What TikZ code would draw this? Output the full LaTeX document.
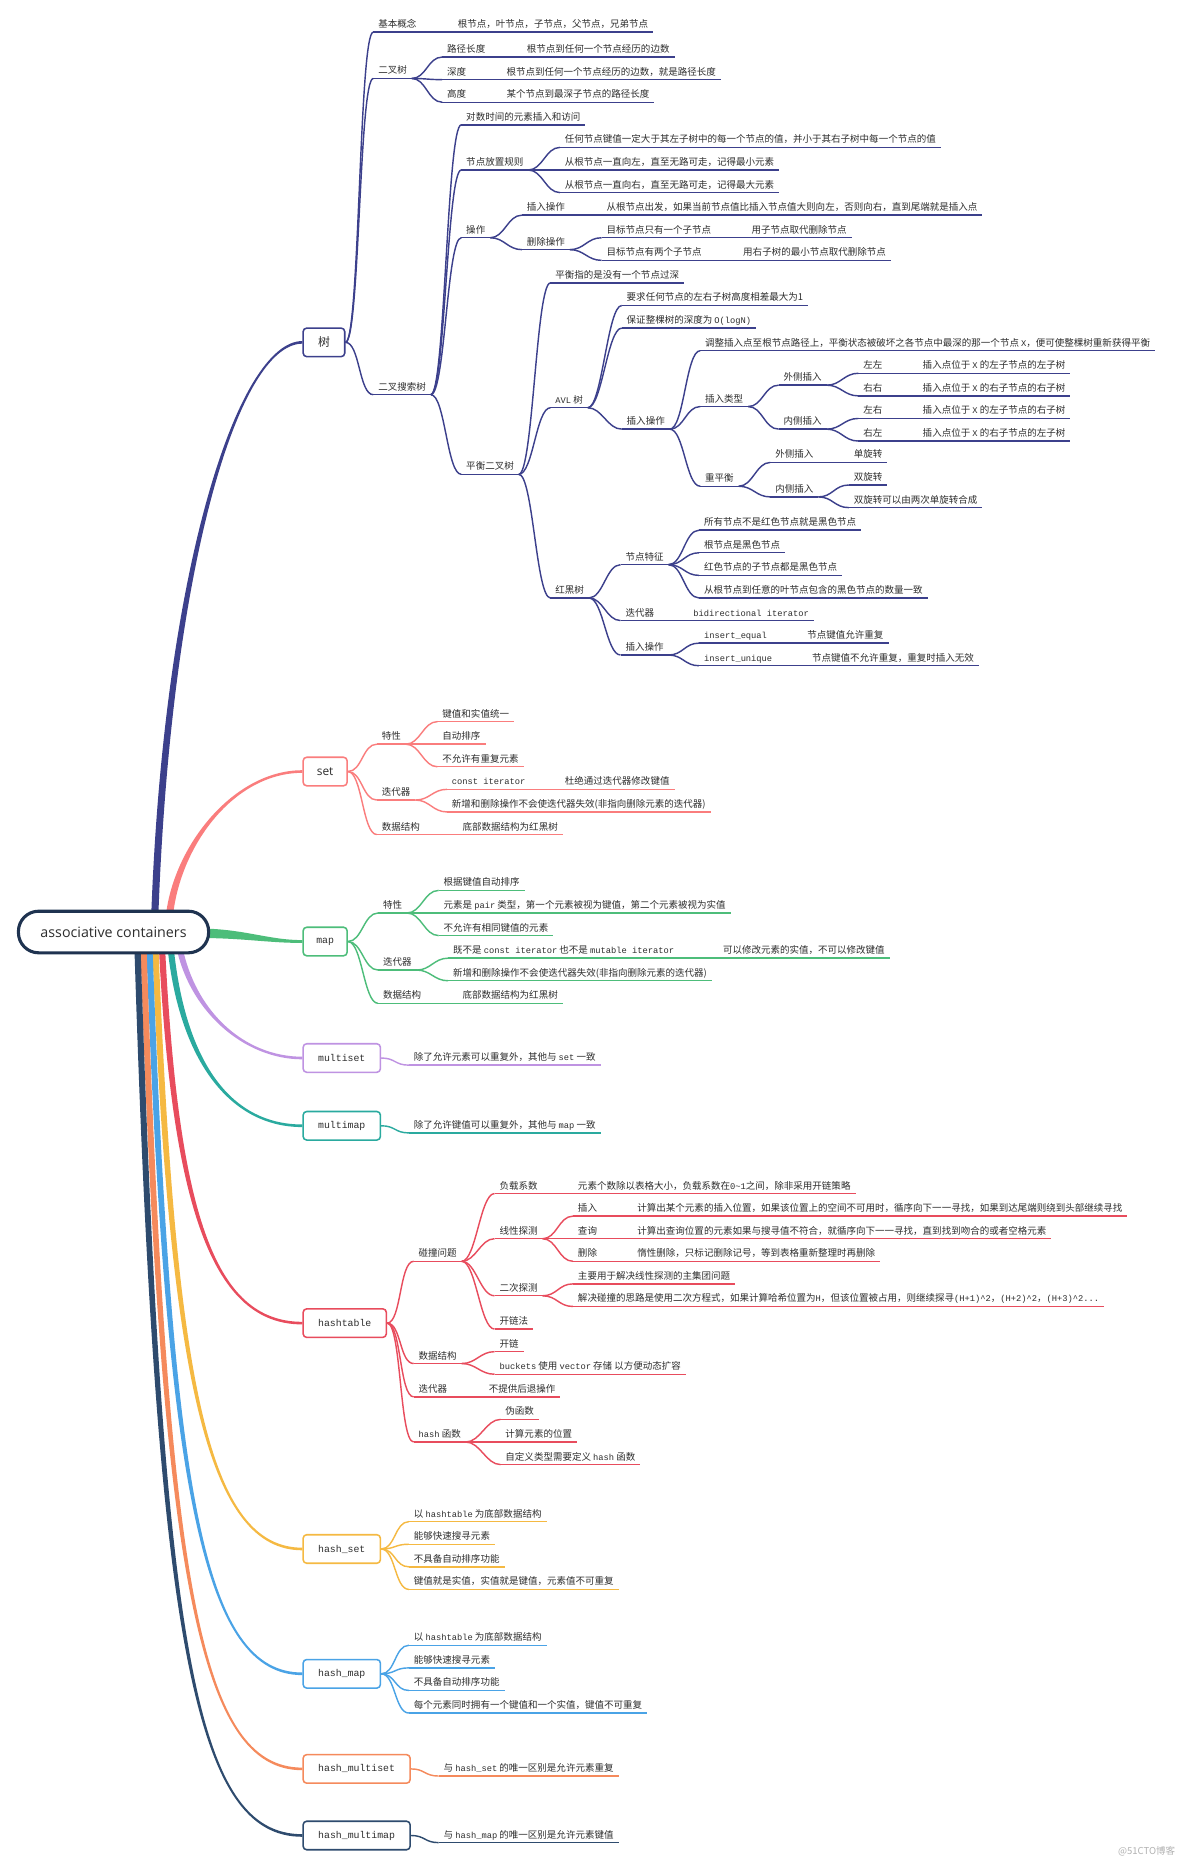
\documentclass[tikz,border=0pt]{standalone}
\usepackage{fontspec}
\setmainfont{Noto Sans CJK SC}
\setmonofont{Liberation Mono}[Scale=0.92]
\newfontfamily\rootfont{Open Sans}
\usetikzlibrary{calc}
\pgfdeclarelayer{bg}
\pgfsetlayers{bg,main}
\definecolor{txt}{HTML}{2E2E2E}
\definecolor{treeC}{HTML}{3C408C}
\definecolor{setC}{HTML}{FA7D7D}
\definecolor{mapC}{HTML}{4DBD7A}
\definecolor{msC}{HTML}{BF93E2}
\definecolor{mmC}{HTML}{2AAA9F}
\definecolor{htC}{HTML}{E84C5D}
\definecolor{hsC}{HTML}{F5B942}
\definecolor{hmC}{HTML}{4AA3E6}
\definecolor{hmsC}{HTML}{F58A5C}
\definecolor{hmmC}{HTML}{2E4B6E}
\definecolor{rootC}{HTML}{1F3350}
\colorlet{bc}{treeC}
\tikzset{
 lb/.style={anchor=south west, inner xsep=4pt, inner ysep=2.6pt, text height=6.3pt, text depth=1pt, font=\fontsize{8}{9}\selectfont, text=txt},
 ul/.style={draw=bc, line width=1.2pt},
 cnx/.style={draw=bc, line width=1.2pt},
 bx/.style={draw=bc, line width=1.3pt, fill=white, rounded corners=3pt, minimum height=24pt, inner sep=0pt, text=txt, font=\ttfamily\fontsize{9}{10}\selectfont},
}
\newcommand\mylab[4]{\node[lb] (#1) at (#2,#3) {#4};\draw[ul] (#1.south west) -- (#1.south east);}
\newcommand\myln[2]{\draw[cnx] (#1.south east) .. controls +(12,0) and +(-12,0) .. (#2.south west);}
\newcommand\mybx[2]{\draw[cnx] (#1.east) .. controls +(12,0) and +(-12,0) .. (#2.south west);}
\newcommand\taper[7]{\fill[#1] ($#2+#6$) .. controls ($#3+#6$) and ($#4+(0,#7)$) .. ($#5+(0,#7)$) -- ($#5-(0,#7)$) .. controls ($#4-(0,#7)$) and ($#3-#6$) .. ($#2-#6$) -- cycle;}
\begin{document}
\begin{tikzpicture}[x=1pt,y=-1pt]
\useasboundingbox (0,0) rectangle (996,1568);
\begin{pgfonlayer}{bg}
\fill[white] (0,0) rectangle (996,1568);
\end{pgfonlayer}

% root
\node[draw=rootC, line width=2.6pt, rounded corners=17pt, minimum width=160pt, minimum height=35pt, fill=white, text=txt, font=\rootfont\fontsize{12}{14}\selectfont] (root) at (95.5,784) {associative containers};

% ===== tree =====
\begin{scope}\colorlet{bc}{treeC}
\node[bx, minimum width=35pt, font=\fontsize{10}{11}\selectfont] (T) at (272.5,288) {树};
\mylab{t1}{314}{27}{基本概念}
\mylab{t1a}{381}{27}{根节点，叶节点，子节点，父节点，兄弟节点}
\mylab{t2}{314}{66}{二叉树}
\mylab{t2a}{372}{48}{路径长度}
\mylab{t2a1}{439}{48}{根节点到任何一个节点经历的边数}
\mylab{t2b}{372}{67}{深度}
\mylab{t2b1}{422}{67}{根节点到任何一个节点经历的边数，就是路径长度}
\mylab{t2c}{372}{86}{高度}
\mylab{t2c1}{422}{86}{某个节点到最深子节点的路径长度}
\mylab{t3}{314}{332}{二叉搜索树}
\mylab{t3a}{388}{105}{对数时间的元素插入和访问}
\mylab{t3b}{388}{143}{节点放置规则}
\mylab{t3b1}{471}{124}{任何节点键值一定大于其左子树中的每一个节点的值，并小于其右子树中每一个节点的值}
\mylab{t3b2}{471}{143}{从根节点一直向左，直至无路可走，记得最小元素}
\mylab{t3b3}{471}{162}{从根节点一直向右，直至无路可走，记得最大元素}
\mylab{t3c}{388}{200}{操作}
\mylab{t3c1}{439}{181}{插入操作}
\mylab{t3c1a}{506}{181}{从根节点出发，如果当前节点值比插入节点值大则向左，否则向右，直到尾端就是插入点}
\mylab{t3c2}{439}{210}{删除操作}
\mylab{t3c2a}{506}{200}{目标节点只有一个子节点}
\mylab{t3c2a1}{628}{200}{用子节点取代删除节点}
\mylab{t3c2b}{506}{219}{目标节点有两个子节点}
\mylab{t3c2b1}{621}{219}{用右子树的最小节点取代删除节点}
\mylab{t3d}{388}{399}{平衡二叉树}
\mylab{t3d1}{463}{238}{平衡指的是没有一个节点过深}
\mylab{av}{463}{343}{\texttt{AVL} 树}
\mylab{av1}{523}{257}{要求任何节点的左右子树高度相差最大为1}
\mylab{av2}{523}{276}{保证整棵树的深度为 \texttt{O(logN)}}
\mylab{av3}{523}{361}{插入操作}
\mylab{av31}{589}{295}{调整插入点至根节点路径上，平衡状态被破坏之各节点中最深的那一个节点 \texttt{X}，便可使整棵树重新获得平衡}
\mylab{av32}{589}{342}{插入类型}
\mylab{av321}{655}{324}{外侧插入}
\mylab{ll}{722}{314}{左左}
\mylab{lla}{772}{314}{插入点位于 \texttt{X} 的左子节点的左子树}
\mylab{rr}{722}{333}{右右}
\mylab{rra}{772}{333}{插入点位于 \texttt{X} 的右子节点的右子树}
\mylab{av322}{655}{361}{内侧插入}
\mylab{lr}{722}{352}{左右}
\mylab{lra}{772}{352}{插入点位于 \texttt{X} 的左子节点的右子树}
\mylab{rl}{722}{371}{右左}
\mylab{rla}{772}{371}{插入点位于 \texttt{X} 的右子节点的左子树}
\mylab{av33}{589}{409}{重平衡}
\mylab{ro1}{648}{389}{外侧插入}
\mylab{ro1a}{714}{389}{单旋转}
\mylab{ro2}{648}{418}{内侧插入}
\mylab{ro2a}{714}{408}{双旋转}
\mylab{ro2b}{714}{427}{双旋转可以由两次单旋转合成}
\mylab{rb}{463}{503}{红黑树}
\mylab{rb1}{522}{475}{节点特征}
\mylab{rb1a}{588}{446}{所有节点不是红色节点就是黑色节点}
\mylab{rb1b}{588}{465}{根节点是黑色节点}
\mylab{rb1c}{588}{484}{红色节点的子节点都是黑色节点}
\mylab{rb1d}{588}{503}{从根节点到任意的叶节点包含的黑色节点的数量一致}
\mylab{rb2}{522}{522}{迭代器}
\mylab{rb2a}{579}{522}{\texttt{bidirectional iterator}}
\mylab{rb3}{522}{551}{插入操作}
\mylab{rb3a}{588}{541}{\texttt{insert\_equal}}
\mylab{rb3a1}{675}{541}{节点键值允许重复}
\mylab{rb3b}{588}{560}{\texttt{insert\_unique}}
\mylab{rb3b1}{679}{560}{节点键值不允许重复，重复时插入无效}
\mybx{T}{t1}\mybx{T}{t2}\mybx{T}{t3}
\myln{t1}{t1a}
\myln{t2}{t2a}\myln{t2}{t2b}\myln{t2}{t2c}
\myln{t2a}{t2a1}\myln{t2b}{t2b1}\myln{t2c}{t2c1}
\myln{t3}{t3a}\myln{t3}{t3b}\myln{t3}{t3c}\myln{t3}{t3d}
\myln{t3b}{t3b1}\myln{t3b}{t3b2}\myln{t3b}{t3b3}
\myln{t3c}{t3c1}\myln{t3c}{t3c2}\myln{t3c1}{t3c1a}
\myln{t3c2}{t3c2a}\myln{t3c2}{t3c2b}\myln{t3c2a}{t3c2a1}\myln{t3c2b}{t3c2b1}
\myln{t3d}{t3d1}\myln{t3d}{av}\myln{t3d}{rb}
\myln{av}{av1}\myln{av}{av2}\myln{av}{av3}
\myln{av3}{av31}\myln{av3}{av32}\myln{av3}{av33}
\myln{av32}{av321}\myln{av32}{av322}
\myln{av321}{ll}\myln{av321}{rr}\myln{ll}{lla}\myln{rr}{rra}
\myln{av322}{lr}\myln{av322}{rl}\myln{lr}{lra}\myln{rl}{rla}
\myln{av33}{ro1}\myln{av33}{ro2}\myln{ro1}{ro1a}\myln{ro2}{ro2a}\myln{ro2}{ro2b}
\myln{rb}{rb1}\myln{rb}{rb2}\myln{rb}{rb3}
\myln{rb1}{rb1a}\myln{rb1}{rb1b}\myln{rb1}{rb1c}\myln{rb1}{rb1d}
\myln{rb2}{rb2a}
\myln{rb3}{rb3a}\myln{rb3}{rb3b}\myln{rb3a}{rb3a1}\myln{rb3b}{rb3b1}
\end{scope}

% ===== set =====
\begin{scope}\colorlet{bc}{setC}
\node[bx, minimum width=37pt, font=\rootfont\fontsize{10}{11}\selectfont] (S) at (273.5,649) {set};
\mylab{s1}{317}{626}{特性}
\mylab{s1a}{368}{607}{键值和实值统一}
\mylab{s1b}{368}{626}{自动排序}
\mylab{s1c}{368}{645}{不允许有重复元素}
\mylab{s2}{317}{673}{迭代器}
\mylab{s2a}{376}{664}{\texttt{const iterator}}
\mylab{s2a1}{471}{664}{杜绝通过迭代器修改键值}
\mylab{s2b}{376}{683}{新增和删除操作不会使迭代器失效(非指向删除元素的迭代器)}
\mylab{s3}{317}{702}{数据结构}
\mylab{s3a}{385}{702}{底部数据结构为红黑树}
\mybx{S}{s1}\mybx{S}{s2}\mybx{S}{s3}
\myln{s1}{s1a}\myln{s1}{s1b}\myln{s1}{s1c}
\myln{s2}{s2a}\myln{s2}{s2b}\myln{s2a}{s2a1}
\myln{s3}{s3a}
\end{scope}

% ===== map =====
\begin{scope}\colorlet{bc}{mapC}
\node[bx, minimum width=37pt] (M) at (273.5,792) {map};
\mylab{m1}{318}{768}{特性}
\mylab{m1a}{369}{749}{根据键值自动排序}
\mylab{m1b}{369}{768}{元素是 \texttt{pair} 类型，第一个元素被视为键值，第二个元素被视为实值}
\mylab{m1c}{369}{787}{不允许有相同键值的元素}
\mylab{m2}{318}{816}{迭代器}
\mylab{m2a}{377}{806}{既不是 \texttt{const iterator} 也不是 \texttt{mutable iterator}}
\mylab{m2a1}{604}{806}{可以修改元素的实值，不可以修改键值}
\mylab{m2b}{377}{825}{新增和删除操作不会使迭代器失效(非指向删除元素的迭代器)}
\mylab{m3}{318}{844}{数据结构}
\mylab{m3a}{385}{844}{底部数据结构为红黑树}
\mybx{M}{m1}\mybx{M}{m2}\mybx{M}{m3}
\myln{m1}{m1a}\myln{m1}{m1b}\myln{m1}{m1c}
\myln{m2}{m2a}\myln{m2}{m2b}\myln{m2a}{m2a1}
\myln{m3}{m3a}
\end{scope}

% ===== multiset / multimap =====
\begin{scope}\colorlet{bc}{msC}
\node[bx, minimum width=65pt] (MS) at (287.5,890) {multiset};
\mylab{ms1}{344}{896}{除了允许元素可以重复外，其他与 \texttt{set} 一致}
\mybx{MS}{ms1}
\end{scope}
\begin{scope}\colorlet{bc}{mmC}
\node[bx, minimum width=65pt] (MM) at (287.5,947) {multimap};
\mylab{mm1}{344}{953}{除了允许键值可以重复外，其他与 \texttt{map} 一致}
\mybx{MM}{mm1}
\end{scope}

% ===== hashtable =====
\begin{scope}\colorlet{bc}{htC}
\node[bx, minimum width=70pt] (H) at (290,1113) {hashtable};
\mylab{h1}{348}{1061}{碰撞问题}
\mylab{h11}{416}{1004}{负载系数}
\mylab{h11a}{482}{1004}{元素个数除以表格大小，负载系数在\texttt{0\textasciitilde1}之间，除非采用开链策略}
\mylab{h12}{416}{1042}{线性探测}
\mylab{h12a}{482}{1023}{插入}
\mylab{h12a1}{532}{1023}{计算出某个元素的插入位置，如果该位置上的空间不可用时，循序向下一一寻找，如果到达尾端则绕到头部继续寻找}
\mylab{h12b}{482}{1042}{查询}
\mylab{h12b1}{532}{1042}{计算出查询位置的元素如果与搜寻值不符合，就循序向下一一寻找，直到找到吻合的或者空格元素}
\mylab{h12c}{482}{1061}{删除}
\mylab{h12c1}{532}{1061}{惰性删除，只标记删除记号，等到表格重新整理时再删除}
\mylab{h13}{416}{1090}{二次探测}
\mylab{h13a}{482}{1080}{主要用于解决线性探测的主集团问题}
\mylab{h13b}{482}{1099}{解决碰撞的思路是使用二次方程式，如果计算哈希位置为\texttt{H}，但该位置被占用，则继续探寻\texttt{(H+1)\textasciicircum2}，\texttt{(H+2)\textasciicircum2}，\texttt{(H+3)\textasciicircum2...}}
\mylab{h14}{416}{1118}{开链法}
\mylab{h2}{348}{1147}{数据结构}
\mylab{h2a}{416}{1137}{开链}
\mylab{h2b}{416}{1156}{\texttt{buckets} 使用 \texttt{vector} 存储 以方便动态扩容}
\mylab{h3}{348}{1175}{迭代器}
\mylab{h3a}{407}{1175}{不提供后退操作}
\mylab{h4}{348}{1213}{\texttt{hash} 函数}
\mylab{h4a}{421}{1194}{伪函数}
\mylab{h4b}{421}{1213}{计算元素的位置}
\mylab{h4c}{421}{1232}{自定义类型需要定义 \texttt{hash} 函数}
\mybx{H}{h1}\mybx{H}{h2}\mybx{H}{h3}\mybx{H}{h4}
\myln{h1}{h11}\myln{h1}{h12}\myln{h1}{h13}\myln{h1}{h14}
\myln{h11}{h11a}
\myln{h12}{h12a}\myln{h12}{h12b}\myln{h12}{h12c}
\myln{h12a}{h12a1}\myln{h12b}{h12b1}\myln{h12c}{h12c1}
\myln{h13}{h13a}\myln{h13}{h13b}
\myln{h2}{h2a}\myln{h2}{h2b}
\myln{h3}{h3a}
\myln{h4}{h4a}\myln{h4}{h4b}\myln{h4}{h4c}
\end{scope}

% ===== hash_set =====
\begin{scope}\colorlet{bc}{hsC}
\node[bx, minimum width=65pt] (HS) at (287.5,1303) {hash\_set};
\mylab{hs1}{344}{1280}{以 \texttt{hashtable} 为底部数据结构}
\mylab{hs2}{344}{1299}{能够快速搜寻元素}
\mylab{hs3}{344}{1318}{不具备自动排序功能}
\mylab{hs4}{344}{1337}{键值就是实值，实值就是键值，元素值不可重复}
\mybx{HS}{hs1}\mybx{HS}{hs2}\mybx{HS}{hs3}\mybx{HS}{hs4}
\end{scope}

% ===== hash_map =====
\begin{scope}\colorlet{bc}{hmC}
\node[bx, minimum width=65pt] (HM) at (287.5,1408) {hash\_map};
\mylab{hm1}{344}{1384}{以 \texttt{hashtable} 为底部数据结构}
\mylab{hm2}{344}{1403}{能够快速搜寻元素}
\mylab{hm3}{344}{1422}{不具备自动排序功能}
\mylab{hm4}{344}{1441}{每个元素同时拥有一个键值和一个实值，键值不可重复}
\mybx{HM}{hm1}\mybx{HM}{hm2}\mybx{HM}{hm3}\mybx{HM}{hm4}
\end{scope}

% ===== hash_multiset / hash_multimap =====
\begin{scope}\colorlet{bc}{hmsC}
\node[bx, minimum width=90pt] (HMS) at (300,1488) {hash\_multiset};
\mylab{hms1}{369}{1494}{与 \texttt{hash\_set} 的唯一区别是允许元素重复}
\mybx{HMS}{hms1}
\end{scope}
\begin{scope}\colorlet{bc}{hmmC}
\node[bx, minimum width=90pt] (HMM) at (300,1544) {hash\_multimap};
\mylab{hmm1}{369}{1550}{与 \texttt{hash\_map} 的唯一区别是允许元素键值}
\mybx{HMM}{hmm1}
\end{scope}

% root branches
\begin{pgfonlayer}{bg}
\coordinate (rs1) at ($(root.center)+(34.5,-8)$);
\coordinate (rs2) at ($(root.center)+(46.5,-8)$);
\coordinate (rs3) at ($(root.center)+(70,1)$);
\coordinate (rs4) at ($(root.center)+(54.5,8)$);
\coordinate (rs5) at ($(root.center)+(47.5,8)$);
\coordinate (rs6) at ($(root.center)+(40.5,8)$);
\coordinate (rs7) at ($(root.center)+(35,8)$);
\coordinate (rs8) at ($(root.center)+(30,8)$);
\coordinate (rs9) at ($(root.center)+(25,8)$);
\coordinate (rs10) at ($(root.center)+(20,8)$);
\taper{treeC}{(rs1)}{(140,480)}{(200,288)}{(T.west)}{(3,0)}{1.1}
\taper{setC}{(rs2)}{(146,715)}{(195,649)}{(S.west)}{(3,0)}{1.1}
\taper{mapC}{(rs3)}{(205,785)}{(225,792)}{(M.west)}{(0,4)}{1.2}
\taper{msC}{(rs4)}{(160,850)}{(205,890)}{(MS.west)}{(-2.6,0)}{1.1}
\taper{mmC}{(rs5)}{(152,890)}{(192,947)}{(MM.west)}{(-2.6,0)}{1.1}
\taper{htC}{(rs6)}{(147,1020)}{(180,1113)}{(H.west)}{(-2.6,0)}{1.1}
\taper{hsC}{(rs7)}{(145,1170)}{(177,1303)}{(HS.west)}{(-2.6,0)}{1.1}
\taper{hmC}{(rs8)}{(142,1260)}{(172,1408)}{(HM.west)}{(-2.6,0)}{1.1}
\taper{hmsC}{(rs9)}{(138,1330)}{(168,1488)}{(HMS.west)}{(-2.6,0)}{1.1}
\taper{hmmC}{(rs10)}{(134,1390)}{(165,1544)}{(HMM.west)}{(-2.6,0)}{1.1}
\end{pgfonlayer}

\node[anchor=east, text=black!30, font=\fontsize{8}{9}\selectfont] (wm) at (992,1557) {@51CTO博客};
\end{tikzpicture}
\end{document}
